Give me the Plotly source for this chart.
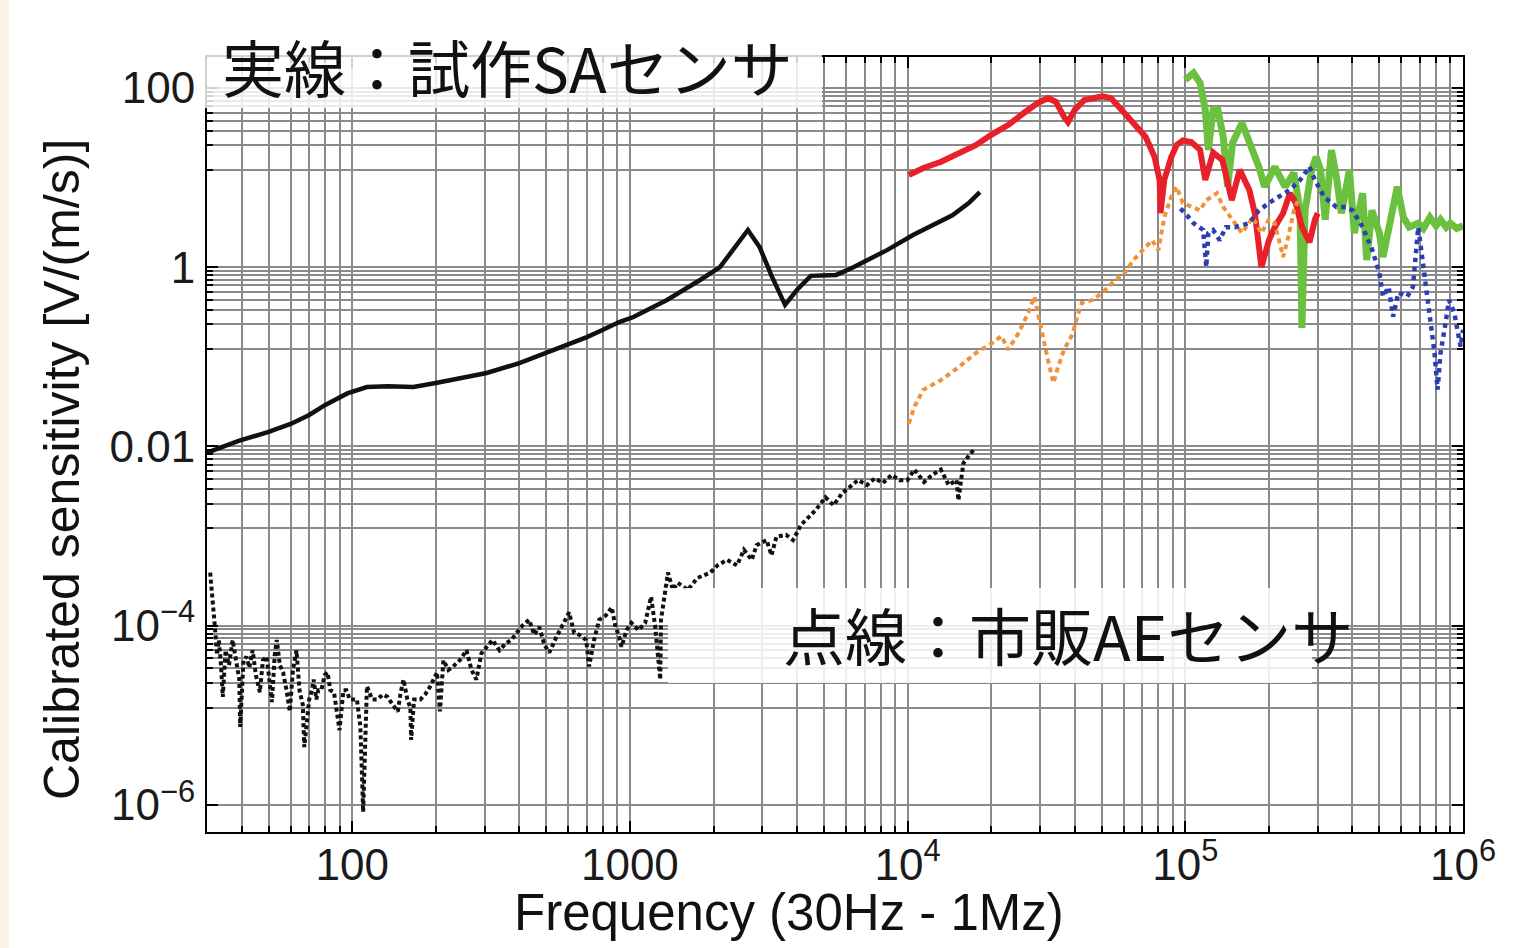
import math
import plotly.graph_objects as go

# ---------------- data ----------------
# Prototype SA sensor (solid lines)
sa_low_freq = [30, 39, 50, 60, 70, 80, 96, 113, 134, 166, 200, 259, 305, 400, 500, 590, 700, 800, 915, 1030,
               1360, 1790, 2110, 2350, 2660, 2930, 3250, 3620, 4000, 4480, 4980, 5530, 6300, 7230, 8460,
               10500, 12400, 14500, 16600, 18200]
sa_low_val = [0.0085, 0.0115, 0.0145, 0.0178, 0.0224, 0.029, 0.039, 0.046, 0.047, 0.046, 0.051, 0.0595, 0.066,
              0.085, 0.11, 0.136, 0.166, 0.2, 0.244, 0.278,
              0.43, 0.72, 1.0, 1.56, 2.6, 1.68, 0.78, 0.38, 0.56, 0.8, 0.8, 0.82, 0.98, 1.2, 1.56,
              2.3, 2.96, 3.8, 5.2, 6.9]

sa_mid_freq = [10100, 11400, 13200, 15300, 17600, 20000, 23000, 26200, 29400, 32000,
               34200, 36600, 37800, 40000, 43300, 50200, 54000, 58900, 65200, 72000,
               77500, 80800, 81400, 82300, 84000, 89000, 93000, 98000, 105000, 113000,
               118000, 126000, 136000, 147000, 157000, 170000, 178000, 188000, 200000, 210000,
               225000, 238000, 250000, 263000, 280000, 293000, 300000]
sa_mid_val = [10.7, 12.8, 15, 18.8, 23, 30, 38.6, 52.6, 68, 77,
              70, 47.5, 41.7, 57, 73.5, 81, 77, 57, 40.7, 28.4,
              17, 9.4, 4.0, 6.0, 9.4, 17, 23, 26, 25, 20.4,
              9.4, 19, 15.7, 5.6, 12.2, 7.3, 4.0, 1.0, 2.0, 2.8,
              4.0, 6.7, 5.2, 2.8, 1.9, 3.4, 4.0]

sa_high_freq = [100000, 107000, 113000, 118000, 121000, 126000, 131000, 137000, 142000, 148000,
                160000, 171000, 184000, 193000, 210000, 229000, 246000, 259000, 263000, 270000,
                285000, 296000, 307000, 319000, 336000, 350000, 365000, 390000, 406000, 435000,
                450000, 470000, 500000, 515000, 540000, 580000, 610000, 640000, 690000, 720000,
                760000, 800000, 830000, 870000, 900000, 950000, 1000000]
sa_high_val = [123, 147, 114, 57, 20.3, 57, 57, 28.4, 7.9, 24.3,
               40.7, 24.3, 13.2, 7.9, 13.2, 7.9, 11.3, 4.3, 0.21, 4.3,
               12.2, 17, 12.2, 3.4, 20.3, 10.2, 4.0, 12.2, 2.4, 6.7,
               1.2, 4.3, 2.4, 1.3, 2.8, 7.9, 3.6, 2.8, 3.1, 2.7,
               3.6, 2.9, 3.4, 2.8, 3.1, 2.7, 2.9]

# Commercial AE sensor (dotted lines)
ae_low_freq = [30.8, 31.5, 32, 32.6, 33.1, 33.7, 34.2, 35, 36, 37.1,
               38, 39.2, 39.5, 40.6, 41.6, 42.6, 43.8, 45, 46.5, 47.7,
               49.2, 50.5, 51.4, 52.6, 53.5, 54.9, 56.4, 58, 59.6, 61.2,
               63, 64.6, 66.4, 67.2, 68.8, 70, 71.6, 72.6, 74.3, 75.5,
               77.4, 79.6, 81.5, 83.4, 86, 87.8, 90, 93, 95.3, 98,
               104, 107, 108, 108.6, 109.5, 111, 113, 118, 123, 129,
               134, 140, 146, 149, 153, 158, 162, 163, 167, 176,
               183, 191, 202, 207, 213, 222, 231, 244, 258, 269,
               280, 292, 305, 320, 339, 359, 374, 390, 410, 434,
               452, 472, 492, 513, 535, 544, 571, 604, 630, 657,
               696, 713, 743, 775, 820, 860, 888, 910, 933, 973,
               1013, 1073, 1135, 1164, 1192, 1232, 1286, 1294, 1338, 1371,
               1428, 1488, 1616, 1750, 1948, 2067, 2240, 2430, 2574, 2746,
               2860, 3106, 3235, 3370, 3650, 3870, 4130, 4410, 4670, 5060,
               5410, 5810, 6210, 6630, 7140, 7620, 8140, 8760, 9350, 9980,
               10580, 11470, 12250, 13170, 14060, 15000, 15240, 15880, 16670, 17500]
ae_low_val = [3.9e-4, 1.9e-4, 1.0e-4, 4.7e-5, 6.9e-5, 3.6e-5, 1.6e-5, 5.3e-5, 3.6e-5, 6.9e-5,
              4.1e-5, 2.5e-5, 7.4e-6, 4.1e-5, 4.5e-5, 3.4e-5, 5.3e-5, 2.8e-5, 1.8e-5, 4.1e-5,
              4.5e-5, 2.5e-5, 1.4e-5, 4.7e-5, 6.9e-5, 3.6e-5, 3.0e-5, 1.9e-5, 1.1e-5, 3.2e-5,
              5.3e-5, 1.9e-5, 1.3e-5, 4.4e-6, 8.8e-6, 1.5e-5, 1.9e-5, 2.5e-5, 1.5e-5, 1.9e-5,
              1.9e-5, 2.8e-5, 3.0e-5, 1.9e-5, 1.8e-5, 1.1e-5, 6.8e-6, 1.9e-5, 1.9e-5, 1.5e-5,
              1.5e-5, 7.4e-6, 4.1e-6, 1.9e-6, 8.3e-7, 3.2e-6, 2.1e-5, 1.5e-5, 1.5e-5, 1.7e-5,
              1.6e-5, 1.3e-5, 1.1e-5, 1.7e-5, 2.5e-5, 1.5e-5, 1.2e-5, 5.3e-6, 1.5e-5, 1.5e-5,
              1.7e-5, 2.1e-5, 3.0e-5, 1.1e-5, 4.1e-5, 3.2e-5, 3.5e-5, 4.1e-5, 5.3e-5, 3.2e-5,
              2.5e-5, 4.9e-5, 5.8e-5, 6.9e-5, 5.3e-5, 6.4e-5, 6.9e-5, 8.3e-5, 1.0e-4, 1.16e-4,
              7.9e-5, 9.6e-5, 6.1e-5, 5.0e-5, 6.9e-5, 7.5e-5, 1.0e-4, 1.4e-4, 8.3e-5, 7.9e-5,
              6.9e-5, 3.5e-5, 6.9e-5, 1.16e-4, 1.3e-4, 1.6e-4, 9.6e-5, 7.9e-5, 5.8e-5, 8.9e-5,
              1.07e-4, 8.9e-5, 1.07e-4, 1.5e-4, 2.1e-4, 1.0e-4, 2.5e-5, 1.16e-4, 2.5e-4, 3.9e-4,
              2.5e-4, 3.0e-4, 2.5e-4, 3.4e-4, 3.9e-4, 4.7e-4, 5.4e-4, 4.7e-4, 7.0e-4, 5.4e-4,
              7.9e-4, 9.0e-4, 6.1e-4, 9.8e-4, 1.03e-3, 9.0e-4, 1.33e-3, 1.63e-3, 1.95e-3, 2.7e-3,
              2.2e-3, 3.0e-3, 3.5e-3, 4.2e-3, 3.7e-3, 4.4e-3, 3.9e-3, 4.8e-3, 4.2e-3, 4.2e-3,
              5.5e-3, 4.0e-3, 4.8e-3, 5.5e-3, 3.7e-3, 4.2e-3, 2.5e-3, 6.5e-3, 8.0e-3, 9.5e-3]

ae_mid_freq = [10100, 10600, 11400, 13200, 15300, 17600, 20000, 21800, 23000, 25000,
               27200, 28600, 29800, 31000, 32000, 33500, 34800, 36600, 39300, 40800,
               42400, 46300, 50000, 56000, 60500, 65000, 72000, 76000, 80000, 84000,
               89000, 93000, 98000, 113000, 119000, 130000, 137000, 147000, 160000, 175000,
               188000, 200000, 210000, 225000, 235000, 246000, 255000]
ae_mid_val = [0.018, 0.028, 0.043, 0.055, 0.077, 0.11, 0.14, 0.17, 0.12, 0.18,
              0.31, 0.47, 0.26, 0.14, 0.093, 0.051, 0.077, 0.12, 0.18, 0.28,
              0.40, 0.43, 0.51, 0.72, 0.86, 1.2, 1.7, 2.0, 1.55, 3.6,
              6.1, 7.9, 5.2, 4.3, 5.6, 6.7, 4.7, 3.4, 2.4, 3.6,
              2.4, 3.4, 3.1, 1.3, 2.2, 4.3, 5.6]

ae_high_freq = [96000, 100000, 107000, 116000, 119000, 121000, 126000, 133000, 140000, 151000,
                170000, 184000, 200000, 218000, 238000, 259000, 280000, 293000, 316000, 350000,
                380000, 400000, 435000, 470000, 500000, 515000, 540000, 560000, 585000, 630000,
                660000, 690000, 720000, 750000, 790000, 810000, 830000, 860000, 890000, 930000,
                980000, 1000000]
ae_high_val = [4.5, 4.0, 3.1, 2.6, 1.0, 2.4, 2.6, 2.0, 2.8, 2.8,
               3.1, 4.3, 5.2, 6.1, 7.3, 9.4, 13.2, 9.4, 6.1, 4.7,
               4.7, 4.3, 2.8, 1.6, 0.86, 0.47, 0.6, 0.28, 0.52, 0.47,
               0.6, 2.8, 1.0, 0.31, 0.11, 0.043, 0.11, 0.21, 0.43, 0.31,
               0.13, 0.2]

# tick labels
x_tick_vals = [100, 1000, 10**4, 10**5, 10**6]
x_tick_text = ["100", "1000", "10<sup>4</sup>", "10<sup>5</sup>", "10<sup>6</sup>"]
y_tick_vals = [1e-6, 1e-4, 1e-2, 1, 100]
y_tick_text = ["10<sup>\u22126</sup>", "10<sup>\u22124</sup>", "0.01", "1", "100"]

x_title = "Frequency (30Hz - 1Mz)"
y_title = "Calibrated sensitivity [V/(m/s)]"
label_solid = "実線：試作SAセンサ"
label_dotted = "点線：市販AEセンサ"

# ---------------- styling ----------------
GRID = "#8a8a8a"
LAT = "Liberation Sans, Arial, sans-serif"
JP = "Noto Sans CJK JP, sans-serif"

x_minor_vals = [k * 10**n for n in range(1, 6) for k in range(2, 10) if 30 < k * 10**n < 10**6]
# minor horizontal grid: a cluster of lines just below each labelled decade
y_minor_vals = []
for base in [100, 1, 0.01, 1e-4]:
    for k in range(1, 10):
        y_minor_vals.append(base * 10 ** (-0.915 * math.log10(10 / k)))

fig = go.Figure()

fig.add_trace(go.Scatter(x=sa_low_freq, y=sa_low_val, mode="lines",
                         line=dict(color="#111111", width=4.5)))
fig.add_trace(go.Scatter(x=sa_high_freq, y=sa_high_val, mode="lines",
                         line=dict(color="#6cc040", width=7)))
fig.add_trace(go.Scatter(x=sa_mid_freq, y=sa_mid_val, mode="lines",
                         line=dict(color="#e8202a", width=6)))
fig.add_trace(go.Scatter(x=ae_mid_freq, y=ae_mid_val, mode="lines",
                         line=dict(color="#f0923a", width=4, dash="5px,4px")))
fig.add_trace(go.Scatter(x=ae_high_freq, y=ae_high_val, mode="lines",
                         line=dict(color="#2c3fb0", width=4.5, dash="dot")))
fig.add_trace(go.Scatter(x=ae_low_freq, y=ae_low_val, mode="lines",
                         line=dict(color="#111111", width=4, dash="4px,3px")))

axis_common = dict(
    type="log", tickmode="array", showgrid=True, gridcolor=GRID, gridwidth=2,
    showline=True, linecolor="black", linewidth=2, mirror="allticks",
    ticks="inside", ticklen=11, tickwidth=2, tickcolor="black", zeroline=False,
    tickfont=dict(family=LAT, size=44, color="#1a1a1a"),
)
fig.update_xaxes(range=[math.log10(30), 6], tickvals=x_tick_vals, ticktext=x_tick_text,
                 ticklabelstandoff=-7,
                 minor=dict(tickmode="array", tickvals=x_minor_vals, showgrid=True, gridcolor=GRID,
                            gridwidth=2, ticks="inside", ticklen=6, tickwidth=1.5, tickcolor="black"),
                 **axis_common)
fig.update_yaxes(range=[-6.304, 2.346], tickvals=y_tick_vals, ticktext=y_tick_text,
                 ticklabelstandoff=1,
                 minor=dict(tickmode="array", tickvals=y_minor_vals, showgrid=True, gridcolor=GRID,
                            gridwidth=2, ticks="inside", ticklen=6, tickwidth=1.5, tickcolor="black"),
                 **axis_common)

W, H = 1537, 948
ML, MR, MT, MB = 207, 74, 57, 116
PW, PH = W - ML - MR, H - MT - MB


def px(xp):
    return (xp - ML) / PW


def py(yp):
    return (H - MB - yp) / PH


shapes = [
    # faint peach strip at the far left edge
    dict(type="rect", xref="paper", yref="paper", x0=px(0), x1=px(9), y0=py(H), y1=py(0),
         fillcolor="#fcf2e8", line=dict(width=0), layer="below"),
    # translucent boxes behind the Japanese labels
    dict(type="rect", xref="paper", yref="paper", x0=px(205), x1=px(822), y0=py(108), y1=py(36),
         fillcolor="rgba(255,255,255,0.82)", line=dict(width=0), layer="above"),
    dict(type="rect", xref="paper", yref="paper", x0=px(668), x1=px(1312), y0=py(683), y1=py(588),
         fillcolor="rgba(255,255,255,0.85)", line=dict(width=0), layer="above"),
]

annotations = [
    dict(text=label_solid, xref="paper", yref="paper", x=px(507), y=py(66), showarrow=False,
         xanchor="center", yanchor="middle", font=dict(family=JP, size=62, color="#111111")),
    dict(text=label_dotted, xref="paper", yref="paper", x=px(1068), y=py(634), showarrow=False,
         xanchor="center", yanchor="middle", font=dict(family=JP, size=62, color="#111111")),
    dict(text=y_title, xref="paper", yref="paper", x=px(62), y=py(470), showarrow=False,
         textangle=-90, xanchor="center", yanchor="middle", font=dict(family=LAT, size=50, color="#111111")),
    dict(text=x_title, xref="paper", yref="paper", x=px(789), y=py(912), showarrow=False,
         xanchor="center", yanchor="middle", font=dict(family=LAT, size=51, color="#111111")),
]

fig.update_layout(
    width=W, height=H, autosize=False,
    margin=dict(l=ML, r=MR, t=MT, b=MB, pad=0),
    paper_bgcolor="white", plot_bgcolor="white",
    showlegend=False, shapes=shapes, annotations=annotations,
)

fig.write_html("out.html", config={"displayModeBar": False},
               post_script="document.body.style.margin='0px';")
